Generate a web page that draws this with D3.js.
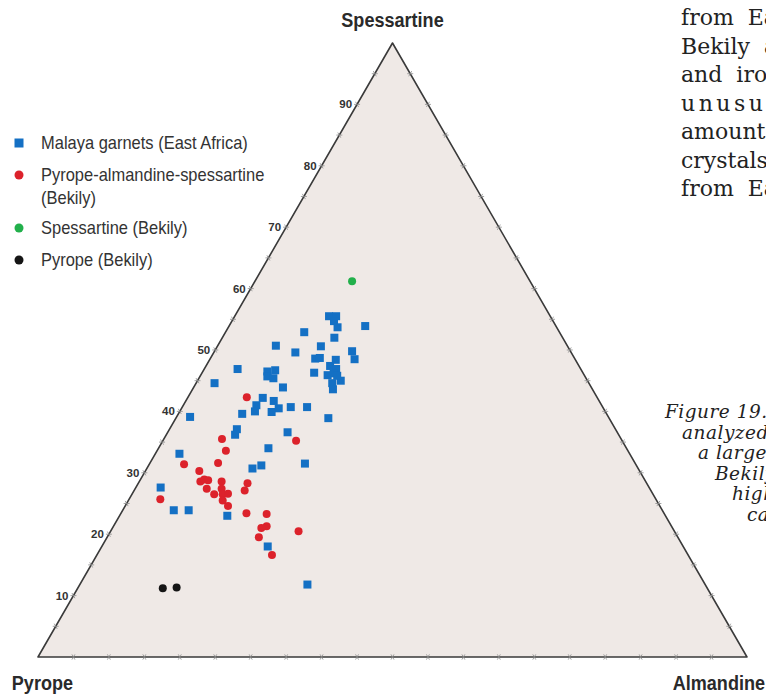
<!DOCTYPE html>
<html><head><meta charset="utf-8">
<script src="https://cdn.jsdelivr.net/npm/d3@7"></script>
<style>body{margin:0;background:#fff}svg{display:block}</style>
</head><body>
<svg id="c" width="766" height="694"></svg>
<script>
// Ternary compositions, mol %: [pyrope, almandine, spessartine]
const vertexLabels = ["Pyrope", "Almandine", "Spessartine"];
const tickLabels = [10, 20, 30, 40, 50, 60, 70, 80, 90];
const tickValues = [5,10,15,20,25,30,35,40,45,50,55,60,65,70,75,80,85,90,95];
const legendLabels = [["Malaya garnets (East Africa)"], ["Pyrope-almandine-spessartine", "(Bekily)"], ["Spessartine (Bekily)"], ["Pyrope (Bekily)"]];

const malaya = [
 [31.2,13.3,55.5],[30.2,14.3,55.5],[30.9,14.4,54.7],[30.9,15.4,53.7],[26.9,19.2,53.9],
 [36.0,11.1,52.9],[32.2,15.8,52.0],[41.1,8.2,50.7],[34.8,14.6,50.6],[38.9,11.5,49.6],
 [30.8,19.4,49.8],[31.1,20.4,48.5],[36.6,14.8,48.6],[35.9,15.4,48.7],[33.8,17.8,48.4],
 [35.1,17.5,47.4],[34.5,18.6,46.9],[48.4,4.7,46.9],[44.4,9.1,46.5],[43.2,10.1,46.7],
 [37.9,15.8,46.3],[44.8,9.5,45.7],[44.1,10.5,45.4],[36.2,17.9,45.9],[35.2,18.6,46.2],
 [34.8,20.2,45.0],[36.2,19.2,44.6],[36.6,19.8,43.6],[43.5,12.6,43.9],[52.8,2.6,44.6],
 [47.2,10.6,42.2],[45.9,12.4,41.7],[48.7,10.3,41.0],[45.8,13.7,40.5],[47.1,13.0,39.9],
 [49.4,10.6,40.0],[44.0,15.3,40.7],[41.7,17.6,40.7],[59.0,1.9,39.1],[51.4,9.0,39.6],
 [39.6,21.5,38.9],[53.4,9.5,37.1],[54.1,9.7,36.2],[46.5,16.9,36.6],[50.5,15.5,34.0],
 [63.5,3.4,33.1],[46.6,21.9,31.5],[54.4,14.9,30.7],[52.9,15.9,31.2],[68.9,3.5,27.6],
 [68.9,7.2,23.9],[66.8,9.3,23.9],[61.8,15.2,23.0],[58.6,23.4,18.0],[56.1,32.1,11.8],
 [34.9,19.3,45.8]
];
const pas = [
 [49.4,8.3,42.3],[56.3,8.2,35.5],[56.7,9.7,33.6],[46.0,18.8,35.2],[58.8,9.6,31.6],
 [63.7,4.9,31.4],[62.1,7.6,30.3],[62.8,8.6,28.6],[62.1,9.0,28.9],[61.6,9.6,28.8],
 [59.8,11.6,28.6],[62.5,10.1,27.4],[60.4,12.2,27.4],[60.7,12.8,26.5],[59.9,13.5,26.6],
 [61.9,11.6,26.5],[61.2,13.3,25.5],[60.9,14.5,24.6],[56.3,15.4,28.3],[57.3,15.6,27.1],
 [69.9,4.4,25.7],[58.9,17.7,23.4],[56.1,20.6,23.3],[57.1,21.6,21.3],[58.0,21.0,21.0],
 [59.1,21.4,19.5],[53.0,26.5,20.5],[58.7,24.7,16.6]
];
const spessartine = [[25.1,13.7,61.2]];
const pyrope = [[76.8,12.0,11.2],[74.8,13.9,11.3]];

const bodyText = ["from East Africa", "Bekily are", "and iron", "unusual", "amounts", "crystals", "from East"];
const captionText = ["Figure 19. The", "analyzed garnets", "a large range", "Bekily", "high", "ca"];

// ---------- drawing ----------
const svg = d3.select("#c");
const side = 709, x0 = 38, y0 = 657, H3 = Math.sqrt(3) / 2;
const t = d3.scaleLinear().domain([0, 100]).range([0, side]);
function proj(d) { const a = t(d[1]), s = t(d[2]); return [x0 + a + s / 2, y0 - s * H3]; }

const corners = [proj([100,0,0]), proj([0,100,0]), proj([0,0,100])];
svg.append("path").attr("d", d3.line()(corners) + "Z")
  .attr("fill", "#efe9e6").attr("stroke", "#3a3a3a").attr("stroke-width", 1.6).attr("stroke-linejoin", "round");

// ticks: small crosses along grid directions
const tg = svg.append("g").attr("stroke", "#8a8a8a").attr("stroke-width", 0.8);
const L = 3;
const dirs = {h: [1, 0], d60: [0.5, -H3], d120: [-0.5, -H3]};
function cross(p, d1, d2) {
  [d1, d2].forEach(d => tg.append("line")
    .attr("x1", p[0] - d[0] * L).attr("y1", p[1] - d[1] * L)
    .attr("x2", p[0] + d[0] * L).attr("y2", p[1] + d[1] * L));
}
tickValues.forEach(v => {
  cross(proj([100 - v, 0, v]), dirs.h, dirs.d120);  // left edge
  cross(proj([100 - v, v, 0]), dirs.d60, dirs.d120); // bottom edge
  cross(proj([0, 100 - v, v]), dirs.h, dirs.d60);    // right edge
});

svg.append("g").selectAll("text").data(tickLabels).join("text")
  .attr("x", v => proj([100 - v, 0, v])[0] - 5)
  .attr("y", v => proj([100 - v, 0, v])[1] + 4)
  .attr("text-anchor", "end")
  .attr("font-family", "Liberation Sans, Arial, sans-serif").attr("font-weight", "bold")
  .attr("font-size", 11.5).attr("fill", "#333").text(v => v);

// condensed sans text helper
const vf = "'Liberation Sans', Arial, sans-serif";
function ctext(x, y, str, size, k, anchor, bold, fill) {
  svg.append("g").attr("transform", `translate(${x},${y}) scale(${k},1)`)
    .append("text").attr("text-anchor", anchor)
    .attr("font-family", vf).attr("font-weight", bold ? "bold" : "normal")
    .attr("font-size", size).attr("fill", fill).text(str);
}
ctext(corners[2][0], 27, vertexLabels[2], 21, 0.86, "middle", true, "#2a2a2a");
ctext(73, 690, vertexLabels[0], 21, 0.86, "end", true, "#2a2a2a");
ctext(765, 690, vertexLabels[1], 21, 0.86, "end", true, "#2a2a2a");

// points
const BLUE = "#1470c4", RED = "#dc222b", GREEN = "#22b04b", BLACK = "#151515";
const S = 8;
svg.append("g").selectAll("rect").data(malaya).join("rect")
  .attr("x", d => proj(d)[0] - S / 2).attr("y", d => proj(d)[1] - S / 2)
  .attr("width", S).attr("height", S).attr("fill", BLUE);
[[pas, RED], [spessartine, GREEN], [pyrope, BLACK]].forEach(([arr, col]) => {
  svg.append("g").selectAll("circle").data(arr).join("circle")
    .attr("cx", d => proj(d)[0]).attr("cy", d => proj(d)[1]).attr("r", 4).attr("fill", col);
});

// legend
const ly = [143, 175, 228, 260];
const lcol = [BLUE, RED, GREEN, BLACK];
ly.forEach((y, i) => {
  if (i === 0) svg.append("rect").attr("x", 14.5).attr("y", y - 4.5).attr("width", 9).attr("height", 9).attr("fill", lcol[i]);
  else svg.append("circle").attr("cx", 19).attr("cy", y).attr("r", 4.5).attr("fill", lcol[i]);
  legendLabels[i].forEach((s, j) => ctext(41, y + 6 + j * 23, s, 18, 0.915, "start", false, "#333"));
});

// page text (magazine column, clipped by the window)
svg.append("g").selectAll("text").data(bodyText).join("text")
  .attr("x", 681).attr("y", (d, i) => 25 + i * 28.5)
  .attr("font-family", "'DejaVu Serif', serif").attr("font-size", 22).attr("fill", "#222")
  .attr("letter-spacing", (d, i) => i === 3 ? 3.5 : 0).attr("word-spacing", 7).text(d => d);
const capX = [665, 682, 698, 715, 732, 747];
svg.append("g").selectAll("text").data(captionText).join("text")
  .attr("x", (d, i) => capX[i]).attr("y", (d, i) => 418 + i * 20.5)
  .attr("font-family", "'DejaVu Serif', serif").attr("font-style", "italic").attr("font-size", 18.5)
  .attr("letter-spacing", 0.5).attr("fill", "#222")
  .text(d => d);
</script>
</body></html>
